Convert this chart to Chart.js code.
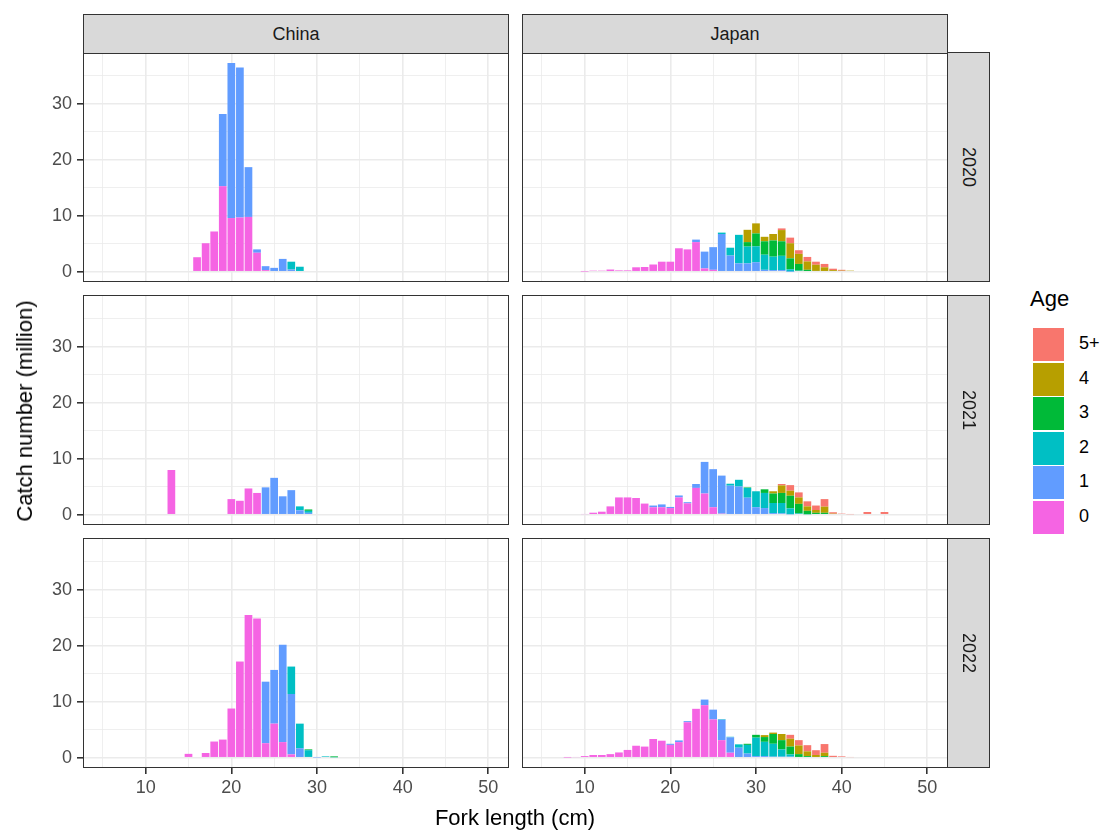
<!DOCTYPE html>
<html lang="en">
<head>
    <meta charset="UTF-8">
    <title>Catch at length by age</title>
    <script src="https://cdn.jsdelivr.net/npm/chart.js"></script>
    <style>
        body {
            margin: 0;
            background: #fff;
            font-family: "Liberation Sans", Arial, sans-serif;
        }
        #fig {
            position: relative;
            width: 1110px;
            height: 835px;
        }
        #fig canvas, .box, .strip, .lbl {
            position: absolute;
        }
        .box {
            box-sizing: border-box;
            border: 1px solid #333;
            pointer-events: none;
        }
        .strip {
            box-sizing: border-box;
            border: 1px solid #333;
            background: #D9D9D9;
            color: #1A1A1A;
            font-size: 18px;
            display: flex;
            align-items: center;
            justify-content: center;
        }
        .strip.side span {
            writing-mode: vertical-rl;
        }
        .lbl {
            white-space: nowrap;
            color: #000;
        }
        .key {
            position: absolute;
            left: 1033px;
            width: 31px;
            height: 33px;
        }
        .keytxt {
            position: absolute;
            left: 1079px;
            font-size: 18px;
            color: #000;
        }
    </style>
</head>
<body>
<div id="fig"></div>

<script>
    const ages = ['0', '1', '2', '3', '4', '5+'];
    const ageColors = ['#F564E3', '#619CFF', '#00BFC4', '#00BA38', '#B79F00', '#F8766D'];
    const countries = ['China', 'Japan'];
    const years = ['2020', '2021', '2022'];
    const xTicks = [5, 10, 15, 20, 25, 30, 35, 40, 45, 50];
    const yTicks = [0, 5, 10, 15, 20, 25, 30, 35];

    // catch number (million) by 1 cm length bin, one array per age, starting at *_start cm
    const cn2020_start = 16;
    const cn2020_age0 = [2.6, 5.1, 7.2, 15.3, 9.6, 9.7, 9.8, 3.4, 0.3, 0, 0, 0, 0];
    const cn2020_age1 = [0, 0, 0, 12.9, 27.7, 26.8, 8.9, 0.6, 0.7, 0.7, 2.3, 0.4, 0];
    const cn2020_age2 = [0, 0, 0, 0, 0, 0, 0, 0, 0, 0, 0, 1.4, 0.9];

    const cn2021_start = 13;
    const cn2021_age0 = [8.0, 0, 0, 0, 0, 0, 0, 2.8, 2.5, 4.7, 3.9, 0, 0, 0, 0, 0, 0];
    const cn2021_age1 = [0, 0, 0, 0, 0, 0, 0, 0, 0, 0, 0, 4.9, 6.6, 3.3, 4.4, 0.8, 0.35];
    const cn2021_age2 = [0, 0, 0, 0, 0, 0, 0, 0, 0, 0, 0, 0, 0, 0, 0, 0.7, 0.35];
    const cn2021_age3 = [0, 0, 0, 0, 0, 0, 0, 0, 0, 0, 0, 0, 0, 0, 0, 0, 0.25];

    const cn2022_start = 15;
    const cn2022_age0 = [0.7, 0, 0.85, 2.9, 3.25, 8.8, 17.2, 25.5, 24.9, 2.6, 6.1, 2.8, 0.6, 0, 0, 0, 0, 0];
    const cn2022_age1 = [0, 0, 0, 0, 0, 0, 0, 0, 0, 11.0, 9.6, 17.4, 10.8, 1.7, 0.15, 0.06, 0, 0];
    const cn2022_age2 = [0, 0, 0, 0, 0, 0, 0, 0, 0, 0, 0, 0, 4.9, 4.4, 1.2, 0, 0.25, 0.1];
    const cn2022_age3 = [0, 0, 0, 0, 0, 0, 0, 0, 0, 0, 0, 0, 0, 0, 0.15, 0, 0, 0.15];

    const jp2020_start = 10;
    const jp2020_age0 = [0.05, 0.2, 0.2, 0.4, 0.25, 0.25, 0.8, 0.85, 1.3, 1.8, 1.8, 4.2, 4.0, 5.3, 0.6, 0.35,
                         0, 0, 0, 0, 0, 0, 0, 0, 0, 0, 0, 0, 0, 0, 0, 0];
    const jp2020_age1 = [0, 0, 0, 0, 0, 0, 0, 0, 0, 0, 0, 0, 0, 0.45, 3.0, 4.05, 6.75, 2.9, 1.5, 1.5, 1.7, 0.35,
                         0.3, 0.3, 0.05, 0, 0, 0, 0, 0, 0, 0];
    const jp2020_age2 = [0, 0, 0, 0, 0, 0, 0, 0, 0, 0, 0, 0, 0, 0, 0, 0, 0.25, 1.4, 5.1, 3.0, 2.85, 2.7,
                         2.4, 2.55, 0.4, 0.2, 0, 0, 0, 0, 0, 0];
    const jp2020_age3 = [0, 0, 0, 0, 0, 0, 0, 0, 0, 0, 0, 0, 0, 0, 0, 0, 0, 0, 0, 0.8, 2.3, 2.4,
                         2.9, 2.6, 1.95, 1.2, 0.35, 0.15, 0, 0, 0, 0];
    const jp2020_age4 = [0, 0, 0, 0, 0, 0, 0, 0, 0, 0, 0, 0, 0, 0, 0, 0, 0, 0, 0, 2.2, 1.8, 0.8,
                         1.15, 2.0, 2.7, 1.8, 1.5, 1.1, 0.8, 0.3, 0.2, 0.2];
    const jp2020_age5 = [0, 0, 0, 0, 0, 0, 0, 0, 0, 0, 0, 0, 0, 0, 0, 0, 0, 0, 0, 0, 0, 0,
                         0, 0.3, 1.0, 0.65, 0.8, 0.55, 0.6, 0.25, 0.15, 0];

    const jp2021_start = 10;
    const jp2021_age0 = [0.12, 0.37, 0.55, 1.5, 3.1, 3.1, 3.0, 2.0, 1.35, 1.35, 1.2, 3.1, 2.05, 4.8, 3.8, 1.35, 0.2,
                         0, 0, 0, 0, 0, 0, 0, 0, 0, 0, 0, 0, 0, 0, 0, 0, 0, 0, 0];
    const jp2021_age1 = [0, 0, 0, 0, 0, 0, 0, 0, 0.3, 0.5, 0.2, 0.35, 0.2, 0.7, 5.65, 6.8, 6.8, 5.2, 5.05, 3.05,
                         1.35, 1.2, 0.3, 0.25, 0.1, 0, 0, 0, 0, 0, 0, 0, 0, 0, 0, 0];
    const jp2021_age2 = [0, 0, 0, 0, 0, 0, 0, 0, 0, 0, 0, 0, 0, 0, 0, 0, 0, 0.35, 1.2, 1.75,
                         2.85, 2.7, 1.8, 1.85, 1.05, 0.25, 0.1, 0, 0, 0, 0, 0, 0, 0, 0, 0];
    const jp2021_age3 = [0, 0, 0, 0, 0, 0, 0, 0, 0, 0, 0, 0, 0, 0, 0, 0, 0, 0, 0, 0.1,
                         0, 0.65, 1.7, 1.8, 2.25, 1.7, 0.6, 0.35, 0.35, 0, 0, 0, 0, 0, 0, 0];
    const jp2021_age4 = [0, 0, 0, 0, 0, 0, 0, 0, 0, 0, 0, 0, 0, 0, 0, 0, 0, 0, 0, 0,
                         0, 0, 0.4, 1.35, 0.9, 1.15, 0.8, 0.5, 1.1, 0.2, 0, 0, 0, 0, 0, 0];
    const jp2021_age5 = [0, 0, 0, 0, 0, 0, 0, 0, 0, 0, 0, 0, 0, 0, 0, 0, 0, 0, 0, 0,
                         0, 0, 0, 0.25, 1.0, 0.9, 0.9, 0.8, 1.35, 0.25, 0.2, 0.1, 0, 0.5, 0, 0.5];

    const jp2022_start = 8;
    const jp2022_age0 = [0.05, 0.12, 0.3, 0.5, 0.5, 0.65, 0.95, 1.4, 2.15, 2.0, 3.35, 3.05, 2.3, 2.8, 6.35, 8.75,
                         9.4, 6.85, 3.15, 0.9, 0, 0, 0, 0, 0, 0, 0, 0, 0, 0, 0, 0, 0, 0];
    const jp2022_age1 = [0, 0, 0, 0, 0, 0, 0, 0, 0, 0, 0, 0, 0.2, 0.3, 0.2, 0, 1.0, 1.75, 3.65, 2.75,
                         1.8, 0.75, 0.3, 0.3, 0.2, 0.2, 0.2, 0, 0, 0, 0, 0, 0, 0];
    const jp2022_age2 = [0, 0, 0, 0, 0, 0, 0, 0, 0, 0, 0, 0, 0, 0, 0, 0, 0, 0, 0.1, 0.1,
                         0.6, 1.55, 3.3, 2.55, 2.3, 1.3, 0.4, 0.15, 0, 0, 0, 0, 0, 0];
    const jp2022_age3 = [0, 0, 0, 0, 0, 0, 0, 0, 0, 0, 0, 0, 0, 0, 0, 0, 0, 0, 0, 0,
                         0, 0.2, 0.5, 0.85, 1.75, 1.65, 1.4, 0.5, 0.3, 0, 0.3, 0, 0, 0];
    const jp2022_age4 = [0, 0, 0, 0, 0, 0, 0, 0, 0, 0, 0, 0, 0, 0, 0, 0, 0, 0, 0, 0,
                         0, 0, 0, 0.35, 0.25, 1.1, 1.4, 1.55, 0.85, 0.5, 0.6, 0, 0, 0];
    const jp2022_age5 = [0, 0, 0, 0, 0, 0, 0, 0, 0, 0, 0, 0, 0, 0, 0, 0, 0, 0, 0, 0,
                         0, 0, 0, 0, 0, 0, 0.7, 0.95, 1.1, 0.85, 1.55, 0.35, 0.25, 0.12];

    const panels = [
        { col: 0, row: 0, start: cn2020_start, ages: [cn2020_age0, cn2020_age1, cn2020_age2] },
        { col: 1, row: 0, start: jp2020_start, ages: [jp2020_age0, jp2020_age1, jp2020_age2, jp2020_age3, jp2020_age4, jp2020_age5] },
        { col: 0, row: 1, start: cn2021_start, ages: [cn2021_age0, cn2021_age1, cn2021_age2, cn2021_age3] },
        { col: 1, row: 1, start: jp2021_start, ages: [jp2021_age0, jp2021_age1, jp2021_age2, jp2021_age3, jp2021_age4, jp2021_age5] },
        { col: 0, row: 2, start: cn2022_start, ages: [cn2022_age0, cn2022_age1, cn2022_age2, cn2022_age3] },
        { col: 1, row: 2, start: jp2022_start, ages: [jp2022_age0, jp2022_age1, jp2022_age2, jp2022_age3, jp2022_age4, jp2022_age5] }
    ];

    // panel geometry (px)
    const colX = [84, 523];
    const rowY = [53, 296, 539];
    const panelW = 424;
    const panelH = 228;
    const padLeft = 50;
    const padBottom = 40;

    const fig = document.getElementById('fig');
    const tickFont = { family: '"Liberation Sans", Arial, sans-serif', size: 18 };

    function addDiv(cls, style, html) {
        const d = document.createElement('div');
        d.className = cls;
        Object.assign(d.style, style);
        if (html) d.innerHTML = html;
        fig.appendChild(d);
        return d;
    }

    function drawPanel(p) {
        const showY = p.col === 0;
        const showX = p.row === 2;
        const left = colX[p.col] - (showY ? padLeft : 0);
        const top = rowY[p.row];
        const w = panelW + (showY ? padLeft : 0);
        const h = panelH + (showX ? padBottom : 0);

        const canvas = document.createElement('canvas');
        canvas.width = w;
        canvas.height = h;
        canvas.style.left = left + 'px';
        canvas.style.top = top + 'px';
        fig.appendChild(canvas);

        const datasets = p.ages.map((arr, i) => ({
            label: ages[i],
            data: arr.map((v, j) => ({ x: p.start + j, y: v })).filter(pt => pt.y > 0),
            backgroundColor: ageColors[i],
            borderWidth: 0,
            barPercentage: 0.9,
            categoryPercentage: 1
        }));

        const major = (ctx) => ctx.tick && ctx.tick.value % 10 === 0;

        new Chart(canvas.getContext('2d'), {
            type: 'bar',
            data: { datasets: datasets },
            options: {
                responsive: false,
                animation: false,
                layout: { padding: 0, autoPadding: false },
                plugins: {
                    legend: { display: false },
                    tooltip: { enabled: false }
                },
                scales: {
                    x: {
                        type: 'linear',
                        stacked: true,
                        min: 2.8,
                        max: 52.3,
                        offset: false,
                        afterBuildTicks: (s) => { s.ticks = xTicks.map(v => ({ value: v })); },
                        afterFit: (s) => {
                            s.height = showX ? padBottom : 0;
                            s.paddingLeft = 0;
                            s.paddingRight = 0;
                        },
                        border: { display: false },
                        grid: {
                            offset: false,
                            color: '#EBEBEB',
                            lineWidth: (ctx) => major(ctx) ? 1.6 : 0.8,
                            drawTicks: showX,
                            tickLength: 7,
                            tickWidth: 1.6,
                            tickColor: (ctx) => major(ctx) ? '#333333' : 'rgba(0,0,0,0)'
                        },
                        ticks: {
                            display: showX,
                            autoSkip: false,
                            maxRotation: 0,
                            padding: 3,
                            color: '#4D4D4D',
                            font: tickFont,
                            callback: (v) => v % 10 === 0 ? v : ''
                        }
                    },
                    y: {
                        stacked: true,
                        min: -1.65,
                        max: 39.1,
                        afterBuildTicks: (s) => { s.ticks = yTicks.map(v => ({ value: v })); },
                        afterFit: (s) => {
                            s.width = showY ? padLeft : 0;
                            s.paddingTop = 0;
                            s.paddingBottom = 0;
                        },
                        border: { display: false },
                        grid: {
                            offset: false,
                            color: '#EBEBEB',
                            lineWidth: (ctx) => major(ctx) ? 1.6 : 0.8,
                            drawTicks: showY,
                            tickLength: 7,
                            tickWidth: 1.6,
                            tickColor: (ctx) => major(ctx) ? '#333333' : 'rgba(0,0,0,0)'
                        },
                        ticks: {
                            display: showY,
                            padding: 5,
                            color: '#4D4D4D',
                            font: tickFont,
                            callback: (v) => v % 10 === 0 ? v : ''
                        }
                    }
                }
            }
        });

        addDiv('box', {
            left: (colX[p.col] - 1) + 'px', top: (top - 1) + 'px',
            width: (panelW + 2) + 'px', height: (panelH + 2) + 'px'
        });
    }

    panels.forEach(drawPanel);

    // facet strips
    countries.forEach((c, i) => {
        addDiv('strip', {
            left: (colX[i] - 1) + 'px', top: '14px',
            width: (panelW + 2) + 'px', height: (rowY[0] - 13) + 'px'
        }, c);
    });
    years.forEach((y, i) => {
        addDiv('strip side', {
            left: (colX[1] + panelW) + 'px', top: (rowY[i] - 1) + 'px',
            width: '43px', height: (panelH + 2) + 'px'
        }, '<span>' + y + '</span>');
    });

    // axis titles
    addDiv('lbl', { left: '515px', top: '818px', fontSize: '22px', transform: 'translate(-50%, -50%)' },
        'Fork length (cm)');
    addDiv('lbl', { left: '25px', top: '411px', fontSize: '22px', transform: 'translate(-50%, -50%) rotate(-90deg)' },
        'Catch number (million)');

    // legend: 5+ at top, 0 at bottom
    addDiv('lbl', { left: '1030px', top: '286px', fontSize: '22px' }, 'Age');
    for (let i = ages.length - 1, k = 0; i >= 0; i--, k++) {
        const y = 328 + k * 34.5;
        addDiv('key', { top: y + 'px', background: ageColors[i] });
        addDiv('keytxt', { top: (y + 5) + 'px' }, ages[i]);
    }
</script>
</body>
</html>
